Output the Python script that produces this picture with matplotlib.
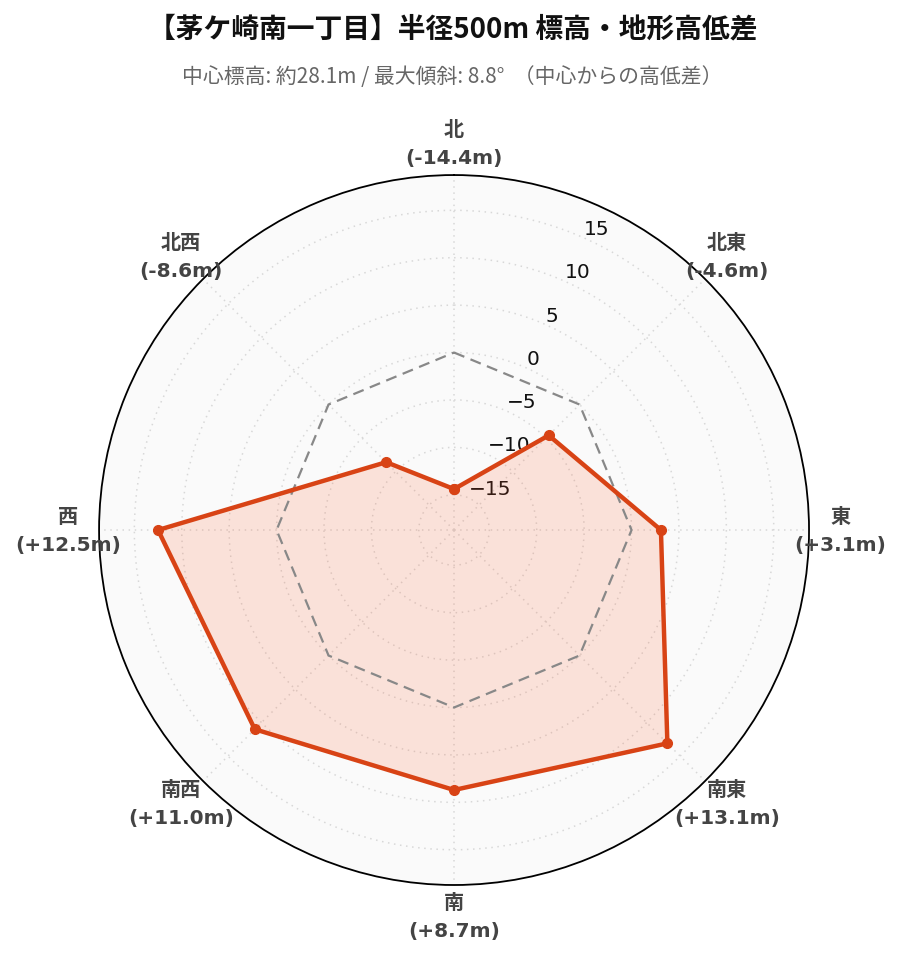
import numpy as np
import matplotlib.pyplot as plt

# data (clockwise from north)
directions = ["北", "北東", "東", "南東", "南", "南西", "西", "北西"]
diffs = [-14.4, -4.6, 3.1, 13.1, 8.7, 11.0, 12.5, -8.6]
r_ticks = [-15, -10, -5, 0, 5, 10, 15]

title = "【茅ケ崎南一丁目】半径500m 標高・地形高低差"
subtitle = "中心標高: 約28.1m / 最大傾斜: 8.8°  （中心からの高低差）"

plt.rcParams["font.family"] = ["DejaVu Sans", "Noto Sans CJK JP"]

rmax = max(abs(v) for v in diffs) * 1.3
theta = np.deg2rad(np.arange(len(diffs)) * 360 / len(diffs))
theta_c = np.append(theta, theta[0])
vals_c = np.append(diffs, diffs[0])

fig = plt.figure(figsize=(9, 9.62), dpi=100)
ax = fig.add_axes([0.11, 0.079, 0.789, 0.738], projection="polar")
ax.set_theta_zero_location("N")
ax.set_theta_direction(-1)
ax.set_ylim(-rmax, rmax)
ax.set_facecolor("#fafafa")

# zero reference
ax.plot(theta_c, np.zeros(len(theta_c)), color="#888888", lw=1.6,
        ls=(0, (5, 3)), zorder=3)

# series
ax.fill(theta_c, vals_c, color="#ff5722", alpha=0.15, lw=0, zorder=2)
ax.plot(theta_c, vals_c, color="#d84315", lw=3.2, marker="o",
        markersize=7, zorder=4)

ax.set_xticks(theta)
ax.set_xticklabels([])
ax.set_yticks(r_ticks)
ax.set_yticklabels([str(t).replace("-", "\u2212") for t in r_ticks],
                   fontsize=14.5, color="#111111")
ax.set_rlabel_position(24)
ax.grid(True, color="#d8d8d8", ls=(0, (1, 3)), lw=1.1, zorder=2.5)
ax.spines["polar"].set_color("black")
ax.spines["polar"].set_linewidth(1.3)

# direction labels
r_lab = -rmax + 1.088 * 2 * rmax
for t, name, v in zip(theta, directions, diffs):
    ax.text(t, r_lab, f"{name}\n({v:+.1f}m)", ha="center", va="center",
            fontsize=14.5, fontweight="bold", color="#444444",
            linespacing=1.6, clip_on=False)

fig.text(0.503, 0.969, title, ha="center", va="center", fontsize=20,
         fontweight="bold", family=["Noto Sans CJK JP"], color="#111111")
fig.text(0.502, 0.920, subtitle, ha="center", va="center", fontsize=15,
         family=["Noto Sans CJK JP"], color="#666666")

fig.savefig("out.png", dpi=100)
